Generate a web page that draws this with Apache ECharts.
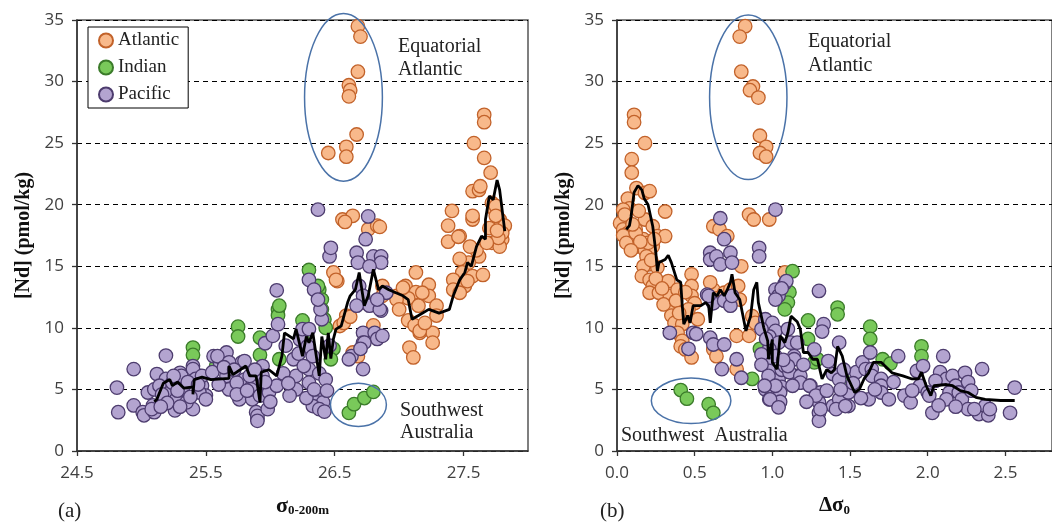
<!DOCTYPE html>
<html><head><meta charset="utf-8">
<script src="https://cdn.jsdelivr.net/npm/echarts@6/dist/echarts.min.js"></script>
<style>html,body{margin:0;padding:0;background:#fff}#c{width:1052px;height:522px}</style>
</head><body><div id="c"></div>
<script>
// ---------- DATA ----------
const yTicks = [0,5,10,15,20,25,30,35];
const leftXTicks = [24.5,25.5,26.5,27.5];
const rightXTicks = [0.0,0.5,1.0,1.5,2.0,2.5];

// Panel (a): sigma 0-200m vs [Nd]
const leftAtlantic = [
 [26.68,34.5],[26.70,33.65],[26.68,30.8],[26.61,29.7],[26.62,29.3],[26.61,28.8],[26.67,25.7],[26.59,24.7],[26.59,23.9],[26.45,24.2],
 [26.56,18.8],[26.64,19.1],[26.58,18.6],[26.76,18.0],[26.83,18.3],[26.85,18.2],[26.49,14.5],[26.52,13.8],[26.51,13.9],
 [26.59,11.0],[26.72,12.05],[26.87,13.4],[26.87,12.6],[26.67,8.0],[26.54,10.15],[26.57,10.4],[26.64,8.0],[26.68,7.7],
 [27.13,14.5],[27.05,13.4],[27.13,12.9],[27.23,13.5],[27.23,12.6],[27.07,12.4],[27.15,11.8],[26.98,12.6],[27.07,10.6],[27.12,10.2],
 [27.16,9.6],[27.29,11.8],[27.29,11.0],[27.26,9.6],[27.26,8.8],[27.08,8.4],[27.11,7.6],[27.18,12.85],[27.16,9.75],[27.03,13.26],[26.98,12.3],
 [27.41,19.5],[27.38,18.3],[27.38,17.0],[27.47,17.45],[27.57,18.8],[27.57,19.1],[27.57,21.1],[27.62,21.2],[27.58,25.0],[27.66,23.8],
 [27.71,22.6],[27.72,20.15],[27.74,19.6],[27.78,18.8],[27.82,18.3],[27.72,16.9],[27.80,17.2],[27.78,16.6],[27.62,15.8],[27.54,15.3],
 [27.47,15.6],[27.49,14.5],[27.42,13.9],[27.57,14.2],[27.65,14.3],[27.51,13.4],[27.42,13.1],[27.47,12.85],[27.66,27.3],[27.66,26.7],
 [27.63,21.5],[27.46,17.4],[27.75,19.9],[27.75,19.1],[27.80,17.7],[27.77,17.3],
 [27.60,16.3],[27.68,16.9],[27.70,18.1],[27.76,17.9],[27.55,16.6],[27.53,13.8],[27.20,10.4],[27.00,11.5],[26.62,10.9],[26.80,10.2]
];
const leftIndian = [
 [25.40,8.4],[25.40,7.8],[25.75,10.1],[25.75,9.3],[25.58,6.9],[25.92,9.2],[25.92,7.8],[26.06,11.5],[26.06,11.0],[26.07,7.45],
 [26.25,10.6],[26.25,9.1],[26.30,14.7],[26.38,13.1],[26.40,12.3],[26.40,11.5],[26.42,10.7],[26.43,10.0],[26.07,11.8],[26.37,13.4],
 [26.49,8.3],[26.47,7.45],
 [26.61,3.1],[26.65,3.8],[26.73,4.3],[26.80,4.8]
];
const leftPacific = [
 [24.81,5.15],[24.82,3.15],[24.94,6.65],[24.94,3.7],[25.01,3.15],[25.02,2.9],[25.10,3.15],[25.09,3.7],[25.05,4.75],[25.12,6.25],
 [25.19,7.75],[25.10,5.0],[25.08,3.4],[25.19,5.85],[25.22,4.5],[25.26,3.3],[25.30,6.35],[25.32,5.3],[25.34,4.5],[25.40,6.9],
 [25.45,6.1],[25.47,5.3],[25.50,4.5],[25.40,3.4],[25.14,5.3],[25.22,4.75],[25.24,5.55],[25.27,4.2],[25.31,6.1],[25.32,5.0],
 [25.35,3.95],[25.40,6.65],[25.42,5.85],[25.45,4.75],[25.47,6.1],[25.50,4.2],[25.56,7.7],[25.61,7.2],[25.63,7.45],[25.66,8.0],
 [25.68,6.4],[25.71,5.0],[25.76,4.2],[25.78,7.2],[25.80,5.8],[25.86,5.3],[25.86,4.2],[25.89,3.15],[25.90,2.6],[25.59,7.7],
 [25.68,7.2],[25.66,6.1],[25.68,5.0],[25.74,5.55],[25.80,7.3],[25.84,6.1],[25.85,5.0],[25.92,4.5],[25.90,2.85],[25.90,2.45],
 [25.94,6.9],[25.94,6.1],[25.98,3.4],[25.99,4.75],[26.05,5.3],[26.05,13.05],[25.96,8.75],[26.02,9.35],[26.06,10.3],[26.12,8.55],
 [26.18,7.45],[26.20,6.1],[26.20,5.0],[26.15,4.5],[26.23,9.05],[26.25,9.9],[26.30,9.9],[26.29,8.5],[26.33,7.7],[26.30,6.65],
 [26.30,5.55],[26.36,4.5],[26.36,3.95],[26.41,3.95],[26.33,3.65],[26.40,10.7],[26.39,11.5],[26.46,8.55],[26.46,15.8],[26.47,16.5],
 [26.30,13.9],[26.34,13.1],[26.37,12.3],[26.37,19.6],[26.76,19.05],[26.74,17.2],[26.67,16.1],[26.68,15.3],[26.80,15.8],[26.86,15.8],
 [26.86,15.3],[26.77,15.0],[26.69,13.4],[26.72,12.6],[26.77,11.8],[26.86,11.4],[26.90,12.85],[26.67,11.8],[26.72,9.6],[26.72,8.8],
 [26.81,9.6],[26.83,9.1],[26.63,7.7],[26.61,7.45],[26.72,6.65],[26.73,8.8],[26.70,8.3],[26.85,11.5],[26.83,12.3],[26.87,9.35],
 [26.38,3.4],[26.42,3.2],
 [25.16,4.6],[25.20,3.9],[25.28,4.9],[25.36,5.6],[25.38,4.4],[25.44,5.4],[25.25,6.1],[25.15,3.6],[25.30,3.6],[25.55,6.4],
 [25.60,5.4],[25.64,6.8],[25.72,6.6],[25.74,4.6],[25.82,4.9],[25.88,6.6],[25.96,5.6],[26.00,4.0],[26.10,6.3],[26.14,5.5],
 [26.22,7.9],[26.26,6.9],[26.28,4.3],[26.34,5.0],[26.38,6.3],[26.43,5.8],[26.44,4.9]
];
const leftMean = [
 [25.10,4.0],[25.12,4.2],[25.17,5.5],[25.22,5.8],[25.24,5.3],[25.28,5.6],[25.33,5.1],[25.40,5.2],[25.40,4.6],[25.41,5.8],
 [25.47,6.0],[25.54,5.8],[25.68,5.9],[25.68,6.9],[25.71,6.2],[25.81,6.9],[25.84,6.1],[25.89,6.1],[25.92,3.95],[25.93,6.4],
 [25.99,6.6],[26.05,6.1],[26.09,7.7],[26.11,9.6],[26.18,9.1],[26.20,9.9],[26.25,7.7],[26.28,9.3],[26.30,8.8],[26.33,9.6],
 [26.38,6.1],[26.40,9.3],[26.43,7.45],[26.45,9.6],[26.47,7.5],[26.49,9.1],[26.51,9.9],[26.55,10.15],[26.60,12.05],[26.62,12.6],
 [26.66,13.1],[26.69,14.5],[26.73,11.8],[26.76,12.6],[26.80,14.75],[26.84,13.1],[26.87,13.4],[26.92,13.1],[27.03,12.6],[27.07,12.3],
 [27.10,10.7],[27.15,11.0],[27.23,11.5],[27.31,11.2],[27.39,11.5],[27.42,12.6],[27.47,13.9],[27.51,14.5],[27.53,15.3],[27.56,15.0],
 [27.60,16.6],[27.64,17.45],[27.67,17.2],[27.67,18.8],[27.70,20.7],[27.73,20.4],[27.76,22.0],[27.78,21.2],[27.82,17.85]
];

// Panel (b): delta sigma 0 vs [Nd]
const rightAtlantic = [
 [0.825,34.5],[0.79,33.65],[0.80,30.8],[0.875,29.6],[0.856,29.3],[0.91,28.7],[0.92,25.6],[0.96,24.7],[0.92,24.2],[0.96,23.9],
 [0.11,27.3],[0.11,26.7],[0.18,25.0],[0.095,23.7],[0.095,22.6],[0.125,21.35],[0.18,20.95],[0.21,21.1],[0.07,20.5],[0.08,19.7],
 [0.31,19.45],[0.04,19.6],[0.06,18.8],[0.02,18.5],[0.04,18.0],[0.07,17.7],[0.12,18.0],[0.18,18.8],[0.23,18.25],[0.26,17.45],
 [0.31,17.45],[0.17,17.2],[0.125,16.6],[0.18,16.3],[0.23,16.6],[0.04,17.5],[0.06,16.9],[0.12,17.7],[0.20,16.9],[0.24,17.2],
 [0.19,15.8],[0.20,15.15],[0.17,15.0],[0.26,14.9],[0.16,14.2],[0.21,13.9],[0.23,13.4],[0.21,12.85],[0.27,12.85],[0.33,13.8],
 [0.34,12.6],[0.39,13.1],[0.48,14.35],[0.48,13.4],[0.48,12.6],[0.50,12.0],[0.46,11.5],[0.52,10.7],[0.35,11.8],[0.35,11.0],
 [0.37,10.4],[0.42,10.3],[0.39,9.6],[0.42,8.95],[0.41,8.5],[0.44,8.25],[0.48,7.6],[0.62,13.1],[0.60,13.7],[0.64,12.4],
 [0.69,12.85],[0.73,13.1],[0.78,13.4],[0.79,12.3],[0.77,9.35],[0.85,9.35],[0.87,10.95],[0.89,10.4],[0.62,8.25],[0.64,7.7],
 [0.77,6.65],[0.62,18.25],[0.66,18.0],[0.71,17.45],[0.80,15.0],[0.85,19.2],[0.88,18.8],[0.98,18.8],[0.95,10.3],[1.08,14.5],
 [0.05,19.2],[0.10,18.4],[0.14,19.5],[0.15,17.0],[0.09,16.3],[0.22,15.5],[0.25,14.0],[0.29,13.2],[0.30,11.9],[0.38,12.2],
 [0.44,12.9],[0.40,11.2]
];
const rightIndian = [
 [0.41,4.95],[0.45,4.25],[0.59,3.8],[0.62,3.1],
 [1.13,14.6],[1.11,12.9],[1.10,12.05],[1.08,11.5],[0.955,8.3],[0.87,5.85],[1.42,11.65],[1.42,11.1],[1.23,10.6],[1.23,9.1],
 [1.27,7.2],[1.29,7.45],[1.63,10.1],[1.63,9.1],[1.71,7.45],[1.76,7.1],[1.96,8.5],[1.96,7.7],[1.45,6.0],[0.92,8.3]
];
const rightPacific = [
 [0.665,18.9],[0.69,17.2],[0.60,16.1],[0.60,15.55],[0.64,15.8],[0.665,15.15],[0.73,16.1],[0.74,15.3],[0.915,16.5],[0.915,15.8],
 [1.02,19.6],[0.58,12.7],[0.62,12.0],[0.69,12.2],[0.73,11.8],[0.74,12.6],[0.34,9.6],[0.49,9.6],[0.46,8.3],[0.60,9.2],
 [0.62,8.65],[0.69,8.65],[0.675,6.65],[0.77,7.45],[0.80,5.95],[1.02,13.1],[1.04,12.6],[1.08,13.6],[0.955,10.7],[1.0,10.4],
 [1.02,9.75],[0.98,9.3],[1.04,8.8],[0.98,8.3],[1.02,7.7],[0.955,7.2],[0.98,6.5],[1.0,5.8],[0.955,5.0],[1.04,5.8],
 [1.06,5.2],[0.98,4.2],[1.04,3.7],[1.06,6.6],[1.12,8.8],[1.14,7.7],[1.16,6.1],[1.30,13.0],[1.33,10.3],[1.32,9.7],
 [1.43,8.8],[1.27,8.25],[1.14,7.45],[1.08,6.9],[1.11,6.4],[1.18,6.1],[1.245,5.3],[1.31,4.75],[1.30,3.95],[1.30,3.1],
 [1.30,2.45],[1.05,4.75],[1.05,4.0],[1.39,6.25],[1.39,3.65],[1.43,4.2],[1.49,4.75],[1.49,3.65],[1.43,5.8],[1.54,6.4],
 [1.58,7.2],[1.60,6.65],[1.63,8.0],[1.64,6.65],[1.64,6.1],[1.70,5.85],[1.70,5.3],[1.70,4.75],[1.62,4.2],[1.81,7.7],
 [1.85,4.5],[1.89,3.95],[1.93,6.5],[1.97,6.9],[1.95,5.3],[2.0,4.75],[2.03,3.1],[2.01,4.5],[2.10,7.7],[2.08,6.4],
 [2.12,5.85],[2.16,6.1],[2.18,5.3],[2.14,4.75],[2.12,4.2],[2.20,4.75],[2.24,6.35],[2.26,5.6],[2.22,4.2],[2.26,3.4],
 [2.33,3.0],[2.35,6.65],[2.37,3.65],[2.39,2.9],[2.30,3.4],[2.56,5.15],[2.53,3.1],[1.09,13.8],[1.06,13.2],[1.02,12.3],
 [0.93,9.9],[0.96,9.1],[0.93,7.85],[0.93,7.0],[0.975,6.1],[1.02,5.3],[0.95,5.3],[0.985,4.2],[1.04,3.55],[1.10,6.9],
 [1.16,8.8],[1.10,9.9],[1.18,5.55],[1.24,5.3],[1.28,4.5],[1.31,3.4],[1.41,3.4],[1.44,5.0],[1.47,3.65],[0.51,9.5],[0.59,12.6],
 [1.07,7.4],[1.13,5.3],[1.20,7.0],[1.22,4.0],[1.35,4.9],[1.36,7.3],[1.46,6.6],[1.52,5.5],[1.57,4.3],[1.66,5.0],
 [1.75,4.2],[1.78,5.6],[1.90,4.9],[2.05,5.7],[2.07,3.7],[2.18,3.6],[2.28,4.9],[2.40,3.4]
];
const rightMean = [
 [0.06,18.0],[0.08,18.3],[0.09,19.0],[0.11,21.0],[0.135,21.55],[0.16,21.2],[0.175,20.5],[0.20,20.0],[0.23,18.25],[0.24,17.2],
 [0.25,16.1],[0.26,14.6],[0.27,15.3],[0.31,15.55],[0.33,15.9],[0.35,15.3],[0.385,13.9],[0.41,13.7],[0.42,11.8],[0.43,10.3],
 [0.455,11.0],[0.47,10.4],[0.49,11.8],[0.54,11.8],[0.57,12.05],[0.59,11.8],[0.60,10.4],[0.62,12.85],[0.645,12.6],[0.665,13.1],
 [0.69,12.6],[0.71,13.1],[0.73,13.7],[0.74,14.35],[0.76,12.85],[0.79,12.3],[0.83,9.75],[0.86,10.95],[0.88,13.1],[0.90,13.7],
 [0.91,12.05],[0.945,10.0],[0.97,8.95],[0.975,7.45],[1.0,9.05],[1.0,7.2],[1.03,6.65],[1.05,9.35],[1.08,8.8],[1.10,9.6],
 [1.12,10.95],[1.16,10.5],[1.18,9.9],[1.20,8.0],[1.23,8.0],[1.26,7.45],[1.29,7.45],[1.32,5.85],[1.35,6.6],[1.38,6.35],
 [1.40,6.6],[1.42,8.5],[1.45,7.7],[1.48,6.1],[1.53,4.75],[1.56,5.0],[1.59,5.85],[1.62,6.35],[1.65,7.2],[1.70,7.2],
 [1.77,6.35],[1.84,6.1],[1.90,5.85],[1.94,5.85],[1.96,6.4],[1.99,5.3],[2.02,4.5],[2.04,5.3],[2.12,5.4],[2.16,5.3],
 [2.21,4.9],[2.26,4.75],[2.31,4.35],[2.37,4.2],[2.47,4.1],[2.56,4.1]
];

// ---------- STYLE ----------
const SANS = "'Open Sans','Liberation Sans',sans-serif";
const SERIF = "'Liberation Serif','DejaVu Serif',serif";
const COL = {
  Atlantic: {fill:'#F8B98B', border:'#C2622A'},
  Indian:   {fill:'#79C95A', border:'#3B7B2A'},
  Pacific:  {fill:'#B3A4D0', border:'#4D3C6E'}
};

const chart = echarts.init(document.getElementById('c'), null, {renderer:'canvas'});

function xAxis(gi, min, max, ticks, name) {
  return {
    type:'value', gridIndex:gi, min:min, max:max,
    axisLine:{show:true, onZero:false, lineStyle:{color:'#333', width:1.5}},
    axisTick:{show:true, inside:false, length:5, customValues:ticks, lineStyle:{color:'#333', width:1.3}},
    axisLabel:{customValues:ticks, formatter:v=>v.toFixed(1), fontFamily:SANS, fontSize:17, color:'#404040', margin:14},
    splitLine:{show:false},
    name:name, nameLocation:'middle', nameGap:44,
    nameTextStyle:{
      rich:{
        s:{fontFamily:SERIF, fontWeight:'bold', fontSize:22, color:'#111'},
        d:{fontFamily:SERIF, fontWeight:'bold', fontSize:21, color:'#111'},
        sub:{fontFamily:SERIF, fontWeight:'bold', fontSize:13, color:'#111', padding:[9,0,0,0]}
      }
    }
  };
}
function yAxis(gi) {
  return {
    type:'value', gridIndex:gi, min:0, max:35, interval:5,
    axisLine:{show:true, lineStyle:{color:'#333', width:1.5}},
    axisTick:{show:true, length:5, lineStyle:{color:'#333', width:1.3}},
    axisLabel:{fontFamily:SANS, fontSize:17, color:'#404040', margin:13},
    splitLine:{show:true, lineStyle:{color:'#000', width:1.2, type:[5,4]}},
    name:'[Nd] (pmol/kg)', nameLocation:'middle', nameGap:43,
    nameTextStyle:{fontFamily:SERIF, fontWeight:'bold', fontSize:20, color:'#111'}
  };
}
function scatter(name, data, gi) {
  return {
    name:name, type:'scatter', xAxisIndex:gi, yAxisIndex:gi, data:data,
    symbol:'circle', symbolSize:13.5,
    itemStyle:{color:COL[name].fill, borderColor:COL[name].border, borderWidth:1.3, opacity:1},
    emphasis:{disabled:true}, animation:false, z:2
  };
}
function mean(data, gi) {
  return {
    type:'line', xAxisIndex:gi, yAxisIndex:gi, data:data, showSymbol:false,
    lineStyle:{color:'#000', width:2.8}, z:5, animation:false, silent:true
  };
}

chart.setOption({
  animation:false,
  backgroundColor:'#fff',
  grid:[
    {left:77, top:20, width:451, height:432, show:true, borderColor:'#555', borderWidth:1.5, backgroundColor:'transparent'},
    {left:617, top:20, width:449, height:432, show:true, borderColor:'#555', borderWidth:1.5, backgroundColor:'transparent'}
  ],
  xAxis:[
    xAxis(0, 24.5, 28.0, leftXTicks, '{s|σ}{sub|0-200m}'),
    xAxis(1, 0, 2.8, rightXTicks, '{d|Δσ}{sub|0}')
  ],
  yAxis:[yAxis(0), yAxis(1)],
  legend:{
    data:['Atlantic','Indian','Pacific'], orient:'vertical', left:88, top:27,
    padding:[4,9,4,10], itemWidth:14, itemHeight:14, itemGap:8, icon:'circle',
    borderColor:'#000', borderWidth:1, backgroundColor:'#fff',
    textStyle:{fontFamily:SERIF, fontSize:19, color:'#222'}, selectedMode:false
  },
  series:[
    scatter('Atlantic', leftAtlantic, 0), scatter('Indian', leftIndian, 0), scatter('Pacific', leftPacific, 0), mean(leftMean, 0),
    scatter('Atlantic', rightAtlantic, 1), scatter('Indian', rightIndian, 1), scatter('Pacific', rightPacific, 1), mean(rightMean, 1)
  ]
});

// ---------- ANNOTATIONS ----------
const ellipses = [
  {g:0, cx:26.568, cy:28.72, rx:0.302, ry:6.81},
  {g:0, cx:26.684, cy:3.75, rx:0.217, ry:1.76},
  {g:1, cx:0.845, cy:28.72, rx:0.249, ry:6.68},
  {g:1, cx:0.477, cy:4.08, rx:0.256, ry:1.84}
];
const graphics = ellipses.map(e => {
  const f = {xAxisIndex:e.g, yAxisIndex:e.g};
  const c = chart.convertToPixel(f, [e.cx, e.cy]);
  const p = chart.convertToPixel(f, [e.cx + e.rx, e.cy + e.ry]);
  return {type:'ellipse', shape:{cx:c[0], cy:c[1], rx:Math.abs(p[0]-c[0]), ry:Math.abs(p[1]-c[1])},
          style:{fill:'none', stroke:'#4A72A8', lineWidth:1.5}, z:10, silent:true};
});
function txt(x, y, s, size) {
  return {type:'text', left:x, top:y, style:{text:s, font:(size||20)+'px '+SERIF, fill:'#222'}, z:10, silent:true};
}
graphics.push(
  txt(398, 37, 'Equatorial'), txt(398, 60, 'Atlantic'),
  txt(400, 401, 'Southwest'), txt(400, 423, 'Australia'),
  txt(808, 32, 'Equatorial'), txt(808, 56, 'Atlantic'),
  txt(621, 426, 'Southwest  Australia'),
  txt(58, 501, '(a)', 21), txt(600, 501, '(b)', 21)
);
chart.setOption({graphic:graphics});
</script>
</body></html>
